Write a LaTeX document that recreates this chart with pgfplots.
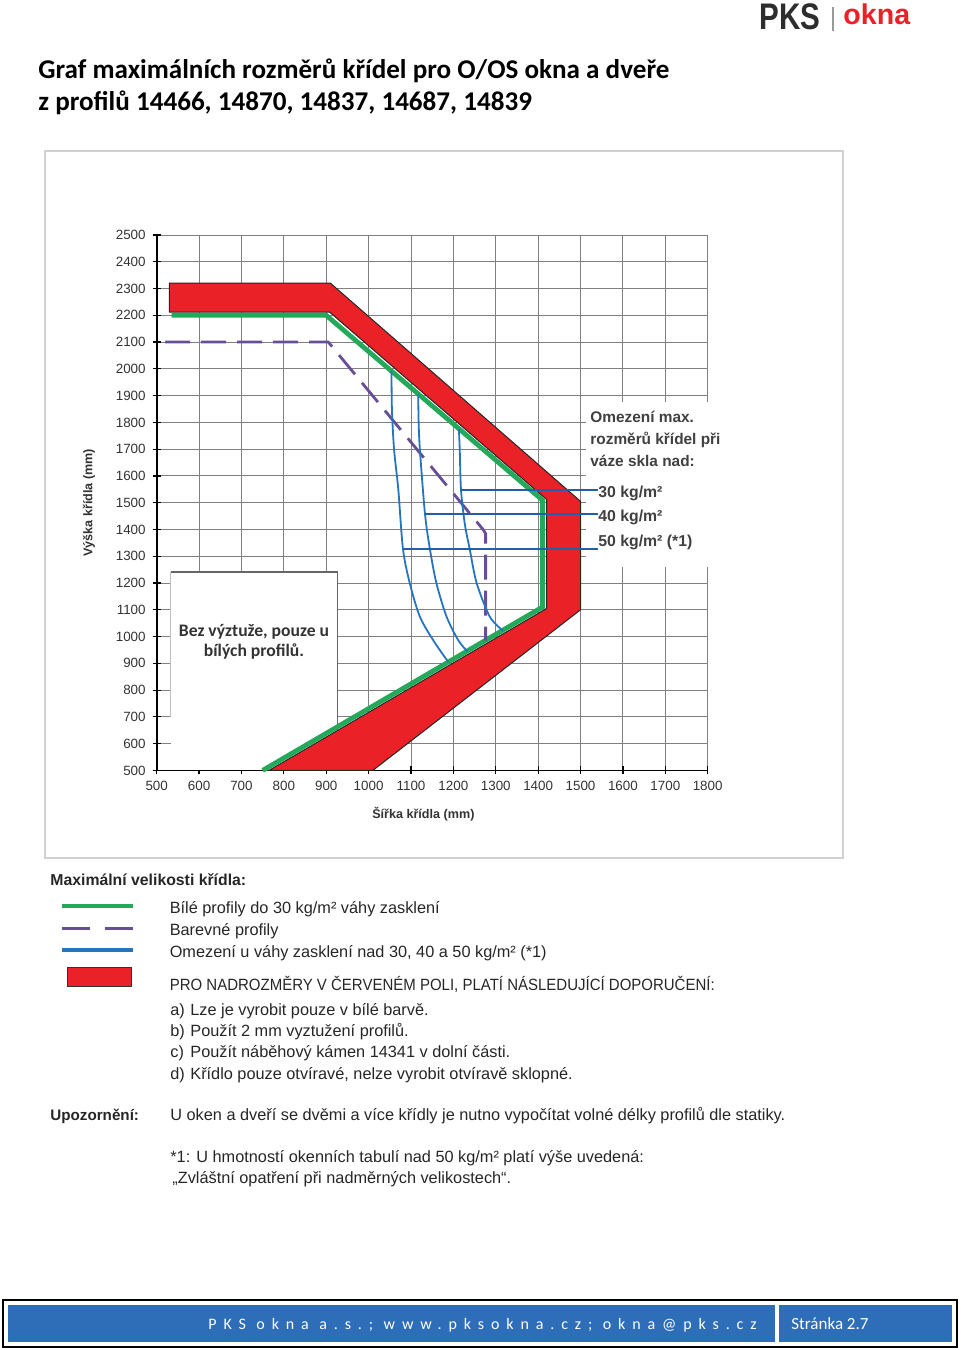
\documentclass[border=0pt]{standalone}
\usepackage{pgfplots}
\pgfplotsset{compat=1.18}
\usepackage{fontspec}
\setmainfont{Liberation Sans}
\newfontfamily\carlito{Carlito}
\newfontfamily\spacedfont[LetterSpace=43]{Carlito}
\definecolor{pksred}{RGB}{234,33,39}
\definecolor{pksgreen}{RGB}{36,168,90}
\definecolor{pkspurple}{RGB}{104,78,150}
\definecolor{pksblue}{RGB}{38,116,188}
\definecolor{linkblue}{RGB}{33,95,170}
\definecolor{barblue}{RGB}{46,110,184}
\definecolor{logogray}{RGB}{45,45,45}
\pgfplotsset{
  greenimg/.style={legend image code/.code={\draw[pksgreen, line width=2.2pt] (0pt,1.5pt) -- (35.5pt,1.5pt);}},
  purpleimg/.style={legend image code/.code={\draw[pkspurple, line width=1.3pt] (0pt,1.5pt) -- (14pt,1.5pt) (21.5pt,1.5pt) -- (35.5pt,1.5pt);}},
  blueimg/.style={legend image code/.code={\draw[pksblue, line width=2.2pt] (0pt,1.5pt) -- (35.5pt,1.5pt);}},
  redimg/.style={legend image code/.code={\draw[fill=pksred, draw=black!80] (3pt,-0.5pt) rectangle (35pt,9pt);}},
}
\begin{document}
\begin{tikzpicture}
\useasboundingbox (0,0) rectangle (480pt,-675pt);
\begin{scope}[x=0.5pt,y=-0.5pt]
  \draw[black!18, line width=1pt] (45,151) rectangle (843,858);
\end{scope}
\begin{axis}[
  at={(78.35pt,-385.2pt)}, anchor=south west,
  scale only axis, width=275.5pt, height=267.7pt,
  xmin=500, xmax=1800, ymin=500, ymax=2500,
  xtick={500,600,...,1800}, ytick={500,600,...,2500},
  grid=major, major grid style={black!50, line width=0.45pt},
  axis x line*=bottom, axis y line*=left,
  axis line style={-, black, line width=0.9pt},
  tick style={black, line width=0.6pt}, major tick length=4pt, tick align=center,
  ticklabel style={font=\fontsize{6.7}{7}\selectfont, text=black!80},
  /pgf/number format/assume math mode=true,
  /pgf/number format/set thousands separator={},
  xlabel={Šířka křídla (mm)}, ylabel={Výška křídla (mm)},
  label style={font=\bfseries\fontsize{6.3}{7}\selectfont, text=black!80},
  xlabel style={at={(axis description cs:0.484,-0.0814)}, anchor=center},
  ylabel style={at={(axis description cs:-0.1229,0.5)}, anchor=center},
  clip=false,
  legend style={at={(axis description cs:-0.1882,-0.2365)}, anchor=north west,
    draw=none, fill=none, font=\fontsize{8.15}{9}\selectfont, text=black!85,
    nodes={inner sep=0pt, text height=6.2pt, text depth=1.6pt},
    row sep=3.2pt, column sep=17.5pt},
  legend cell align=left,
]
 % white boxes hiding the grid
 \fill[white] (axis cs:533,500) rectangle (axis cs:927,1241);
 \draw[black!60, line width=0.6pt] (axis cs:533,1241) -- (axis cs:927,1241) -- (axis cs:927,500);
 \draw[black!25, line width=0.5pt] (axis cs:533,1241) -- (axis cs:533,700);
 \fill[white] (axis cs:1512,1258) rectangle (axis cs:1840,1875);
 % red field
 \addplot[forget plot, fill=pksred, draw=black!85, line width=0.5pt] coordinates {
   (530,2320) (910,2320) (1500,1505) (1500,1100) (1010,500) (765,500)
   (1420,1105) (1420,1512) (908,2212) (530,2212)} -- cycle;
 % white profiles (green)
 \addplot[forget plot, pksgreen, line width=2.4pt] coordinates {
   (750,500) (1410,1110) (1410,1510) (900,2200) (535,2200)};
 % coloured profiles (purple dashed)
 \addplot[forget plot, pkspurple, line width=1.4pt, dash pattern=on 12.5pt off 5.5pt] coordinates {
   (520,2100) (905,2100) (1270,1400) (1276,1385) (1276,985)};
 % glass weight limits (blue)
 \addplot[forget plot, pksblue, line width=0.9pt, smooth, tension=0.5] coordinates {
   (1054,1992) (1055,1850) (1060,1700) (1070,1550) (1081,1328) (1097,1200) (1121,1074) (1155,980) (1188,905)};
 \addplot[forget plot, pksblue, line width=0.9pt, smooth, tension=0.5] coordinates {
   (1117,1905) (1118,1800) (1121,1698) (1133,1458) (1145,1323) (1160,1199) (1184,1074) (1212,985) (1233,945)};
 \addplot[forget plot, pksblue, line width=0.9pt, smooth, tension=0.5] coordinates {
   (1213,1775) (1215,1698) (1218,1547) (1227,1420) (1239,1323) (1255,1199) (1286,1074) (1317,1022)};
 \addplot[forget plot, linkblue, line width=1pt] coordinates {(1218,1547) (1541,1547)};
 \addplot[forget plot, linkblue, line width=1pt] coordinates {(1133,1458) (1541,1458)};
 \addplot[forget plot, linkblue, line width=1pt] coordinates {(1081,1328) (1541,1328)};
 % legend
 \addlegendimage{greenimg}
 \addlegendentry{Bílé profily do 30 kg/m² váhy zasklení}
 \addlegendimage{purpleimg}
 \addlegendentry{Barevné profily}
 \addlegendimage{blueimg}
 \addlegendentry{Omezení u váhy zasklení nad 30, 40 a 50 kg/m² (*1)}
 \addlegendimage{redimg}
 \addlegendentry{\scalebox{0.92}[1]{PRO NADROZMĚRY V ČERVENÉM POLI, PLATÍ NÁSLEDUJÍCÍ DOPORUČENÍ:}}
\end{axis}
\begin{scope}[x=0.5pt,y=-0.5pt]
  % title
  \node[anchor=base west, inner sep=0pt] at (38,78) {\carlito\bfseries\fontsize{13.55}{15}\selectfont Graf maximálních rozměrů křídel pro O/OS okna a dveře};
  \node[anchor=base west, inner sep=0pt] at (38,110) {\carlito\bfseries\fontsize{13.55}{15}\selectfont z profilů 14466, 14870, 14837, 14687, 14839};
  % logo
  \node[anchor=base west, inner sep=0pt, text=logogray] at (759,29) {\scalebox{0.8}[1]{\bfseries\fontsize{18.5}{18}\selectfont PKS}};
  \draw[black!40, line width=0.6pt] (833,7) -- (833,31);
  \node[anchor=base west, inner sep=0pt, text=pksred] at (843,24) {\bfseries\fontsize{14.3}{15}\selectfont okna};
  % chart annotations
  \node[anchor=base, inner sep=0pt, text=black!80] at (254,636) {\carlito\bfseries\fontsize{8.8}{9}\selectfont Bez výztuže, pouze u};
  \node[anchor=base, inner sep=0pt, text=black!80] at (254,656) {\carlito\bfseries\fontsize{8.8}{9}\selectfont bílých profilů.};
  \node[anchor=base west, inner sep=0pt, text=black!75] at (590,422) {\bfseries\fontsize{7.7}{9}\selectfont Omezení max.};
  \node[anchor=base west, inner sep=0pt, text=black!75] at (590,444) {\bfseries\fontsize{7.7}{9}\selectfont rozměrů křídel při};
  \node[anchor=base west, inner sep=0pt, text=black!75] at (590,466) {\bfseries\fontsize{7.7}{9}\selectfont váze skla nad:};
  \node[anchor=base west, inner sep=0pt, text=black!75] at (598,497) {\bfseries\fontsize{7.9}{9}\selectfont 30 kg/m²};
  \node[anchor=base west, inner sep=0pt, text=black!75] at (598,521) {\bfseries\fontsize{7.9}{9}\selectfont 40 kg/m²};
  \node[anchor=base west, inner sep=0pt, text=black!75] at (598,546) {\bfseries\fontsize{7.9}{9}\selectfont 50 kg/m² (*1)};
  % notes
  \begin{scope}[every node/.style={anchor=base west, inner sep=0pt, text=black!85, font=\fontsize{8.15}{9}\selectfont}]
  \node[font=\bfseries\fontsize{7.9}{9}\selectfont] at (50,885) {Maximální velikosti křídla:};
  \node at (170,1015) {a)}; \node at (190,1015) {Lze je vyrobit pouze v bílé barvě.};
  \node at (170,1036) {b)}; \node at (190,1036) {Použít 2 mm vyztužení profilů.};
  \node at (170,1057) {c)}; \node at (190,1057) {Použít náběhový kámen 14341 v dolní části.};
  \node at (170,1079) {d)}; \node at (190,1079) {Křídlo pouze otvíravé, nelze vyrobit otvíravě sklopné.};
  \node[font=\bfseries\fontsize{7.6}{9}\selectfont] at (50,1120) {Upozornění:};
  \node at (170,1120) {U oken a dveří se dvěmi a více křídly je nutno vypočítat volné délky profilů dle statiky.};
  \node at (170,1162) {*1: U hmotností okenních tabulí nad 50 kg/m² platí výše uvedená:};
  \node at (172,1183) {„Zvláštní opatření při nadměrných velikostech“.};
  \end{scope}
  % footer
  \draw[black, line width=0.8pt] (3,1300) rectangle (957,1347);
  \fill[barblue] (8,1305) rectangle (775,1342);
  \fill[barblue] (779,1305) rectangle (952,1342);
  \node[anchor=base west, inner sep=0pt, text=white] at (208,1329) {\spacedfont\fontsize{8}{9}\selectfont PKS okna a.s.; www.pksokna.cz; okna@pks.cz};
  \node[anchor=base west, inner sep=0pt, text=white] at (791,1329) {\carlito\fontsize{8.5}{9}\selectfont Stránka 2.7};
\end{scope}
\end{tikzpicture}
\end{document}
